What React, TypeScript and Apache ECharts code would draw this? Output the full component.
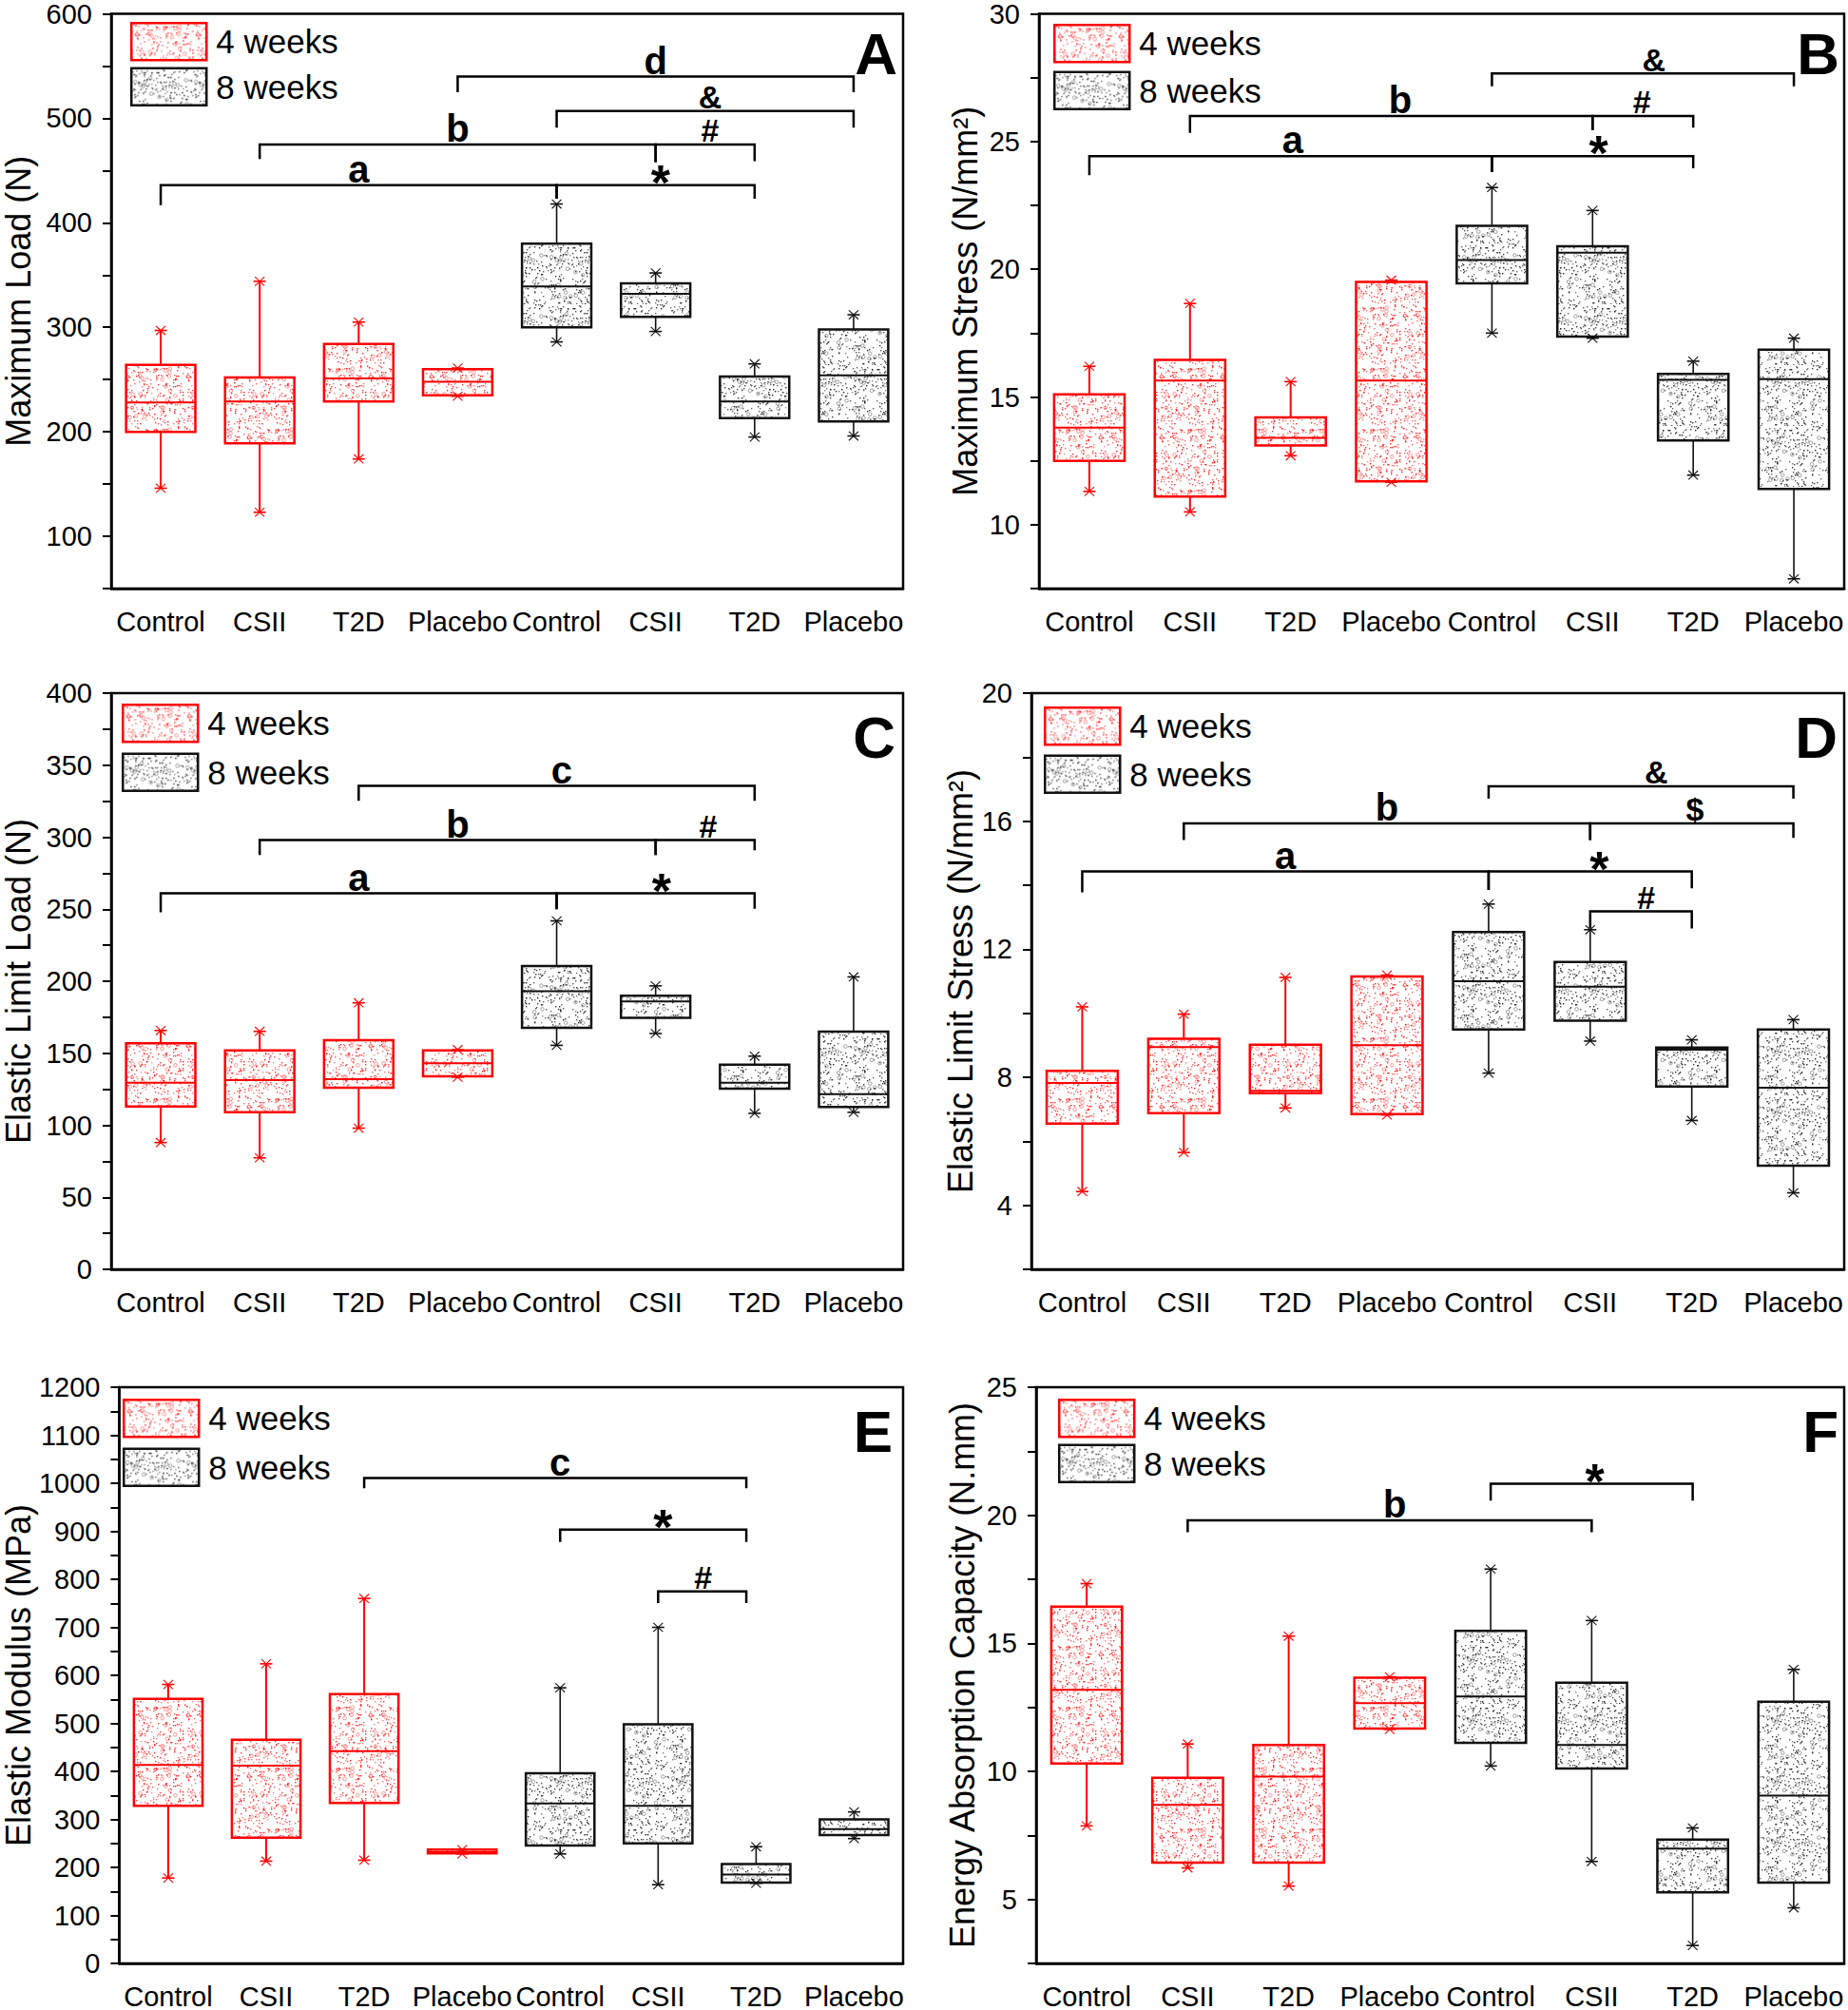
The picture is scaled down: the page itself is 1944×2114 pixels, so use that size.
import React, { useEffect, useRef } from 'react';
import * as echarts from 'echarts';

const FONT = '"Liberation Sans", Arial, Helvetica, sans-serif';
const W = 1944;
const H = 2114;

const categories = ['Control', 'CSII', 'T2D', 'Placebo', 'Control', 'CSII', 'T2D', 'Placebo'];
const groupNames = ['4 weeks', '8 weeks'];
const panelLetters = ['A', 'B', 'C', 'D', 'E', 'F'];
const axisTitles = [
  'Maximum Load (N)',
  'Maximum Stress (N/mm²)',
  'Elastic Limit Load (N)',
  'Elastic Limit Stress (N/mm²)',
  'Elastic Modulus (MPa)',
  'Energy Absorption Capacity (N.mm)',
];

// y axes: [min, max, tick step, label step]
const maxLoadAxis = [50, 600, 50, 100];
const maxStressAxis = [7.5, 30, 2.5, 5];
const elasticLoadAxis = [0, 400, 25, 50];
const elasticStressAxis = [2, 20, 2, 4];
const modulusAxis = [0, 1200, 50, 100];
const energyAxis = [2.5, 25, 2.5, 5];

// boxes: [min, Q1, median, Q3, max] for Control, CSII, T2D, Placebo
const maxLoad4w = [[146, 200, 228, 264, 297], [123, 189, 229, 252, 344], [174, 229, 251, 284, 305], [234, 235, 248, 260, 261]];
const maxLoad8w = [[286, 300, 339, 380, 418], [296, 310, 332, 342, 352], [195, 213, 229, 253, 265], [196, 210, 254, 298, 312]];
const maxStress4w = [[11.3, 12.5, 13.8, 15.1, 16.2], [10.5, 11.1, 15.64, 16.45, 18.66], [12.7, 13.1, 13.4, 14.2, 15.6], [11.66, 11.7, 15.64, 19.5, 19.57]];
const maxStress8w = [[17.5, 19.45, 20.36, 21.7, 23.2], [17.3, 17.36, 20.65, 20.9, 22.3], [11.94, 13.3, 15.67, 15.9, 16.4], [7.88, 11.4, 15.7, 16.85, 17.3]];
const elasticLoad4w = [[88, 113, 129.5, 157, 165.8], [77.4, 109, 131.3, 152, 165.2], [98, 126, 132, 159, 185], [133.4, 134, 143, 152, 152.5]];
const elasticLoad8w = [[155.5, 167.6, 193, 210.6, 241.9], [163.7, 174.6, 186, 190, 196.8], [108.3, 125.4, 129.5, 142, 148], [109, 112.7, 121.6, 165, 203]];
const elasticStress4w = [[4.43, 6.55, 7.82, 8.2, 10.2], [5.65, 6.88, 8.94, 9.2, 9.97], [7.04, 7.5, 7.58, 9.02, 11.12], [6.82, 6.85, 9.0, 11.15, 11.19]];
const elasticStress8w = [[8.13, 9.49, 11.0, 12.54, 13.41], [9.13, 9.77, 10.83, 11.6, 12.61], [6.65, 7.71, 8.86, 8.93, 9.17], [4.39, 5.24, 7.67, 9.49, 9.8]];
const modulus4w = [[178, 328, 413.5, 551, 581], [213, 262, 412, 466, 624], [215, 334, 442, 561, 760], [228, 229, 232, 237, 237]];
const modulus8w = [[228, 245.5, 333, 396, 574], [164, 250, 328, 498, 700], [167, 168.4, 185, 207, 243], [260, 267.4, 279.6, 300, 315.5]];
const energy4w = [[7.87, 10.31, 13.18, 16.43, 17.33], [6.23, 6.44, 8.69, 9.75, 11.07], [5.52, 6.44, 9.8, 11.03, 15.28], [11.64, 11.67, 12.66, 13.66, 13.69]];
const energy8w = [[10.21, 11.11, 12.92, 15.49, 17.9], [6.48, 10.11, 11.03, 13.46, 15.89], [3.2, 5.28, 6.98, 7.34, 7.79], [4.67, 5.66, 9.05, 12.72, 13.98]];

// significance brackets: [from category, to category, line value, left end value, right end value]
const maxLoadBrackets = [[0, 4, 436, 417, 423], [4, 6, 436, 423, 423], [1, 5, 475, 461, 458], [5, 6, 475, 458, 459], [4, 7, 507, 491, 491], [3, 7, 540, 525, 525]];
const maxStressBrackets = [[0, 4, 24.43, 23.68, 23.8], [4, 6, 24.43, 23.8, 23.95], [1, 5, 26.0, 25.34, 25.45], [5, 6, 26.0, 25.45, 25.54], [4, 7, 27.66, 27.16, 27.16]];
const elasticLoadBrackets = [[0, 4, 261, 247.8, 250], [4, 6, 261, 250, 250.4], [1, 5, 298, 287.6, 287.6], [5, 6, 298, 287.6, 291], [2, 6, 335.6, 325.3, 325.3]];
const elasticStressBrackets = [[0, 4, 14.43, 13.78, 13.85], [4, 6, 14.43, 13.85, 13.9], [1, 5, 15.93, 15.41, 15.41], [5, 7, 15.93, 15.41, 15.48], [4, 7, 17.09, 16.7, 16.7], [5, 6, 13.18, 12.65, 12.65]];
const modulusBrackets = [[2, 5.9, 1011, 989.5, 989.5], [4, 5.9, 903.7, 877.5, 877.5], [5, 5.9, 775, 750.5, 750.5]];
const energyBrackets = [[1, 5, 19.8, 19.34, 19.34], [4, 6, 21.23, 20.57, 20.57]];

// bracket labels: [category position, value, text]
const maxLoadMarks = [[2, 436, 'a'], [5.05, 436, '*'], [3, 475, 'b'], [5.55, 475, '#'], [5.55, 507, '&'], [5, 540, 'd']];
const maxStressMarks = [[2.02, 24.43, 'a'], [5.06, 24.43, '*'], [3.09, 26.0, 'b'], [5.49, 26.0, '#'], [5.61, 27.66, '&']];
const elasticLoadMarks = [[2, 261, 'a'], [5.06, 261, '*'], [3, 298, 'b'], [5.53, 298, '#'], [4.05, 335.6, 'c']];
const elasticStressMarks = [[2, 14.43, 'a'], [5.09, 14.43, '*'], [3, 15.93, 'b'], [6.03, 15.93, '$'], [5.65, 17.09, '&'], [5.55, 13.18, '#']];
const modulusMarks = [[4, 1011, 'c'], [5.05, 903.7, '*'], [5.46, 775, '#']];
const energyMarks = [[3.05, 19.8, 'b'], [5.03, 21.23, '*']];

const layouts = [
  { left: 112, top: 13, width: 838, height: 606, nameGap: 80, legend: [137, 23], gap: 6, letterRight: 1000, letterTop: 25 },
  { left: 1093, top: 13, width: 847, height: 606, nameGap: 60, legend: [1108, 25], gap: 8, letterRight: 9, letterTop: 25 },
  { left: 113, top: 729, width: 837, height: 606, nameGap: 80, legend: [128, 740], gap: 10, letterRight: 1002, letterTop: 744 },
  { left: 1085, top: 729, width: 855, height: 606, nameGap: 50, legend: [1098, 743], gap: 9, letterRight: 11, letterTop: 744 },
  { left: 107, top: 1459, width: 843, height: 606, nameGap: 72, legend: [129, 1471], gap: 10, letterRight: 1005, letterTop: 1474 },
  { left: 1090, top: 1459, width: 850, height: 606, nameGap: 60, legend: [1113, 1471], gap: 6, letterRight: 10, letterTop: 1474 },
];

function makeTile(dot: string, ring: string, seed: number) {
  const size = 64;
  const c = document.createElement('canvas');
  c.width = size;
  c.height = size;
  const g = c.getContext('2d') as CanvasRenderingContext2D;
  g.fillStyle = '#ffffff';
  g.fillRect(0, 0, size, size);
  let s = seed;
  const rnd = () => {
    s = (s * 16807) % 2147483647;
    return (s - 1) / 2147483646;
  };
  g.fillStyle = dot;
  for (let i = 0; i < 230; i++) {
    const x = Math.floor(rnd() * size);
    const y = Math.floor(rnd() * size);
    g.globalAlpha = 0.5 + 0.5 * rnd();
    g.fillRect(x, y, 1.4, 1.4);
  }
  g.globalAlpha = 0.75;
  g.strokeStyle = ring;
  g.lineWidth = 0.7;
  for (let i = 0; i < 24; i++) {
    const x = 3 + rnd() * (size - 6);
    const y = 3 + rnd() * (size - 6);
    g.beginPath();
    g.arc(x, y, 1.8, 0, Math.PI * 2);
    g.stroke();
  }
  g.globalAlpha = 1;
  return c;
}

function boxSeries(name: string, idx: number, offset: number, boxes: number[][], color: string, fill: any, whiskerW: number) {
  return {
    type: 'custom',
    name,
    xAxisIndex: idx,
    yAxisIndex: idx,
    itemStyle: { color },
    encode: { x: 0, y: [1, 2, 3, 4, 5] },
    data: boxes.map((b, k) => [k + offset, ...b]),
    renderItem: (params: any, api: any) => {
      const xi = api.value(0);
      const ys = [1, 2, 3, 4, 5].map((d) => api.coord([xi, api.value(d)])[1]);
      const cx = api.coord([xi, api.value(1)])[0];
      const bw = api.size([1, 1])[0] * 0.7;
      const [yMin, yQ1, yMed, yQ3, yMax] = ys;
      const line = (x1: number, y1: number, x2: number, y2: number, w: number) => ({
        type: 'line',
        shape: { x1, y1, x2, y2 },
        style: { stroke: color, lineWidth: w, fill: null },
      });
      const star = (y: number) => [
        line(cx - 6.5, y, cx + 6.5, y, 1.6),
        line(cx - 5, y - 4.7, cx + 5, y + 4.7, 1.1),
        line(cx - 5, y + 4.7, cx + 5, y - 4.7, 1.1),
      ];
      return {
        type: 'group',
        children: [
          line(cx, yQ1, cx, yMin, whiskerW),
          line(cx, yQ3, cx, yMax, whiskerW),
          {
            type: 'rect',
            shape: { x: cx - bw / 2, y: yQ3, width: bw, height: yQ1 - yQ3 },
            style: { fill, stroke: color, lineWidth: 2.5 },
          },
          line(cx - bw / 2, yMed, cx + bw / 2, yMed, 2),
          ...star(yMin),
          ...star(yMax),
        ],
      };
    },
  };
}

function bracketSeries(idx: number, brackets: number[][]) {
  return {
    type: 'custom',
    xAxisIndex: idx,
    yAxisIndex: idx,
    silent: true,
    z: 5,
    encode: { x: [0, 1], y: [2, 3, 4] },
    data: brackets.map((b) => [Math.floor(b[0]), Math.floor(b[1]), b[2], b[3], b[4], b[0] - Math.floor(b[0]), b[1] - Math.floor(b[1])]),
    renderItem: (params: any, api: any) => {
      const band = api.size([1, 1])[0];
      const pt = (xi: number, frac: number, y: number) => {
        const p = api.coord([xi, y]);
        return [p[0] + frac * band, p[1]];
      };
      const x1 = api.value(0);
      const x2 = api.value(1);
      const f1 = api.value(5);
      const f2 = api.value(6);
      const y = api.value(2);
      return {
        type: 'polyline',
        shape: { points: [pt(x1, f1, api.value(3)), pt(x1, f1, y), pt(x2, f2, y), pt(x2, f2, api.value(4))] },
        style: { stroke: '#000', lineWidth: 2.5, fill: null },
      };
    },
  };
}

function markSeries(idx: number, marks: any[][]) {
  return {
    type: 'custom',
    xAxisIndex: idx,
    yAxisIndex: idx,
    silent: true,
    z: 6,
    encode: { x: 0, y: 1 },
    data: marks.map((m) => [Math.floor(m[0]), m[1], m[0] - Math.floor(m[0])]),
    renderItem: (params: any, api: any) => {
      const text = marks[params.dataIndex][2];
      const band = api.size([1, 1])[0];
      const p = api.coord([api.value(0), api.value(1)]);
      const x = p[0] + api.value(2) * band;
      const isStar = text === '*';
      const isSymbol = text === '#' || text === '&' || text === '$';
      const fs = isStar ? 52 : isSymbol ? 34 : 40;
      const y = isStar ? p[1] - 3 : p[1] - 3 - 0.3465 * fs;
      return {
        type: 'text',
        x,
        y,
        style: {
          text,
          fill: '#000',
          fontSize: fs,
          lineHeight: Math.round(fs * 0.8),
          fontWeight: 'bold',
          fontFamily: FONT,
          align: 'center',
          verticalAlign: 'middle',
        },
      };
    },
  };
}

function buildOption(redTile: any, grayTile: any) {
  const redFill = { image: redTile, repeat: 'repeat' };
  const grayFill = { image: grayTile, repeat: 'repeat' };
  const panels = [
    { box4: maxLoad4w, box8: maxLoad8w, axis: maxLoadAxis, brackets: maxLoadBrackets, marks: maxLoadMarks },
    { box4: maxStress4w, box8: maxStress8w, axis: maxStressAxis, brackets: maxStressBrackets, marks: maxStressMarks },
    { box4: elasticLoad4w, box8: elasticLoad8w, axis: elasticLoadAxis, brackets: elasticLoadBrackets, marks: elasticLoadMarks },
    { box4: elasticStress4w, box8: elasticStress8w, axis: elasticStressAxis, brackets: elasticStressBrackets, marks: elasticStressMarks },
    { box4: modulus4w, box8: modulus8w, axis: modulusAxis, brackets: modulusBrackets, marks: modulusMarks },
    { box4: energy4w, box8: energy8w, axis: energyAxis, brackets: energyBrackets, marks: energyMarks },
  ];
  const grid: any[] = [];
  const xAxis: any[] = [];
  const yAxis: any[] = [];
  const series: any[] = [];
  const legend: any[] = [];
  const title: any[] = [];
  panels.forEach((p, i) => {
    const L = layouts[i];
    grid.push({
      left: L.left, top: L.top, width: L.width, height: L.height,
      show: true, borderColor: '#000', borderWidth: 2.5, backgroundColor: 'transparent',
    });
    xAxis.push({
      type: 'category',
      gridIndex: i,
      data: categories,
      boundaryGap: true,
      axisLine: { onZero: false, lineStyle: { color: '#000', width: 2.5 } },
      axisTick: { alignWithLabel: true, length: 12, lineStyle: { color: '#000', width: 2.5 } },
      axisLabel: { interval: 0, color: '#000', fontSize: 29, fontFamily: FONT, margin: 20 },
      splitLine: { show: false },
    });
    const [mn, mx, step, lstep] = p.axis;
    yAxis.push({
      type: 'value',
      gridIndex: i,
      min: mn,
      max: mx,
      interval: step,
      name: axisTitles[i],
      nameLocation: 'middle',
      nameGap: L.nameGap,
      nameTextStyle: { fontSize: 36, color: '#000', fontFamily: FONT },
      axisLine: { show: true, lineStyle: { color: '#000', width: 2.5 } },
      axisTick: { show: true, length: 9, lineStyle: { color: '#000', width: 2 } },
      axisLabel: {
        color: '#000', fontSize: 29, fontFamily: FONT, margin: 20,
        formatter: (v: number) => {
          const r = v / lstep;
          return Math.abs(r - Math.round(r)) < 1e-6 ? String(+v.toFixed(4)) : '';
        },
      },
      splitLine: { show: false },
    });
    series.push(boxSeries(groupNames[0], i, 0, p.box4, '#ff0000', redFill, 2));
    series.push(boxSeries(groupNames[1], i, 4, p.box8, '#111111', grayFill, 1.6));
    series.push(bracketSeries(i, p.brackets));
    series.push(markSeries(i, p.marks));
    legend.push({
      orient: 'vertical',
      left: L.legend[0],
      top: L.legend[1],
      padding: 0,
      itemGap: L.gap,
      itemWidth: 79,
      itemHeight: 39,
      selectedMode: false,
      icon: 'rect',
      textStyle: { fontSize: 35, color: '#000', fontFamily: FONT, padding: [0, 0, 0, 5] },
      data: [
        { name: groupNames[0], itemStyle: { color: redFill, borderColor: '#ff0000', borderWidth: 2.5 } },
        { name: groupNames[1], itemStyle: { color: grayFill, borderColor: '#111111', borderWidth: 2.5 } },
      ],
    });
    title.push({
      text: panelLetters[i],
      right: L.letterRight,
      top: L.letterTop,
      padding: 0,
      textStyle: { fontSize: 62, fontWeight: 'bold', color: '#000', fontFamily: FONT },
    });
  });
  return {
    animation: false,
    backgroundColor: '#ffffff',
    textStyle: { fontFamily: FONT },
    title,
    legend,
    grid,
    xAxis,
    yAxis,
    series,
  };
}

export default function App() {
  const ref = useRef<HTMLDivElement>(null);
  useEffect(() => {
    document.body.style.margin = '0';
    if (!ref.current) return;
    const chart = echarts.init(ref.current, undefined, { renderer: 'svg' });
    const redTile = makeTile('#ff1a1a', '#ff4040', 12345);
    const grayTile = makeTile('#222222', '#555555', 67891);
    chart.setOption(buildOption(redTile, grayTile) as any);
    return () => chart.dispose();
  }, []);
  return <div ref={ref} style={{ width: W, height: H, background: '#fff' }} />;
}
